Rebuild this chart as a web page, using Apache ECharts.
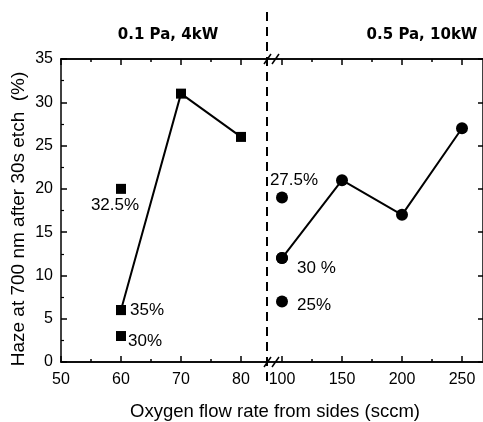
<!DOCTYPE html>
<html>
<head>
<meta charset="utf-8">
<script src="https://cdn.jsdelivr.net/npm/echarts@6/dist/echarts.min.js"></script>
<style>
html, body { margin: 0; padding: 0; background: #fff; }
#chart { width: 483px; height: 422px; }
</style>
</head>
<body>
<div id="chart"></div>
<script>
// Tick positions
const yTicks = [0, 5, 10, 15, 20, 25, 30, 35];
const lowTicks = [50, 60, 70, 80];
const lowMinor = [55, 65, 75];
const highTicks = [100, 150, 200, 250];
const highMinor = [125, 175, 225];

// 0.1 Pa, 4kW: flow series
const lowFlow = [60, 70, 80];
const lowHaze = [6, 31, 26];
// 0.1 Pa, 4kW: points at 60 sccm, labelled with oxygen fraction
const lowPointFlow = [60, 60, 60];
const lowPointHaze = [20, 6, 3];
const lowPointText = ['32.5%', '35%', '30%'];

// 0.5 Pa, 10kW: flow series
const highFlow = [100, 150, 200, 250];
const highHaze = [12, 21, 17, 27];
// 0.5 Pa, 10kW: points at 100 sccm, labelled with oxygen fraction
const highPointFlow = [100, 100, 100];
const highPointHaze = [19, 12, 7];
const highPointText = ['27.5%', '30 %', '25%'];

const panelTitles = ['0.1 Pa, 4kW', '0.5 Pa, 10kW'];
const xTitle = 'Oxygen flow rate from sides (sccm)';
const yTitle = 'Haze at 700 nm after 30s etch  (%)';

const FONT = "'Liberation Sans', Arial, sans-serif";
const BLACK = '#000';

// plot geometry
const G0 = { left: 61, top: 59, width: 206, height: 303 };
const G1 = { left: 267, top: 59, width: 216, height: 303 };
const lowMin = 50, lowMax = 50 + G0.width / 6;
const highMin = 87.5, highMax = 87.5 + G1.width / 1.2;

function xAxis(grid, pos, min, max, ticks, len, labels) {
  return {
    type: 'value', gridIndex: grid, position: pos, min: min, max: max,
    axisLine: { show: true, onZero: false, lineStyle: { color: BLACK, width: 1.5 } },
    axisTick: { show: true, inside: true, length: len, customValues: ticks,
                lineStyle: { color: BLACK, width: 1.5 } },
    axisLabel: labels ? { show: true, customValues: ticks, color: BLACK,
                          fontFamily: FONT, fontSize: 16, margin: 10 } : { show: false },
    splitLine: { show: false }
  };
}

const lineSeries = (xi, yi, xs, ys, symbol, size) => ({
  type: 'line', xAxisIndex: xi, yAxisIndex: yi,
  data: xs.map((x, i) => [x, ys[i]]),
  symbol: symbol, symbolSize: size,
  lineStyle: { color: BLACK, width: 2 },
  itemStyle: { color: BLACK, opacity: 1 },
  z: 3
});

const lowLabelPos = [
  { position: 'bottom', distance: 3, offset: [-6, 0] },
  { position: 'right', distance: 4, offset: [0, 0] },
  { position: 'right', distance: 2, offset: [0, 5] }
];
const highLabelPos = [
  { position: 'top', distance: 3, offset: [12, 0] },
  { position: 'right', distance: 9, offset: [0, 10] },
  { position: 'right', distance: 9, offset: [0, 4] }
];

const pointSeries = (xi, yi, xs, ys, texts, pos, symbol, size) => ({
  type: 'scatter', xAxisIndex: xi, yAxisIndex: yi,
  symbol: symbol, symbolSize: size,
  itemStyle: { color: BLACK, opacity: 1 },
  data: xs.map((x, i) => ({
    value: [x, ys[i]],
    label: Object.assign({
      show: true, formatter: texts[i], color: BLACK, opacity: 1,
      fontFamily: FONT, fontSize: 17
    }, pos[i])
  })),
  z: 4
});

// break marks on the top and bottom frame
function breakMarks(y) {
  return [0, 8].map(dx => ({
    type: 'line',
    shape: { x1: 264 + dx, y1: y + 5, x2: 271 + dx, y2: y - 5 },
    style: { stroke: BLACK, lineWidth: 1.5 },
    z: 100
  }));
}

const chart = echarts.init(document.getElementById('chart'), null, { renderer: 'canvas' });
chart.setOption({
  animation: false,
  backgroundColor: '#fff',
  title: [
    { text: panelTitles[0], left: 163, top: 23, textAlign: 'center',
      textStyle: { fontFamily: "'DejaVu Sans', sans-serif", fontWeight: 'bold', fontSize: 15, color: BLACK } },
    { text: panelTitles[1], left: 417, top: 23, textAlign: 'center',
      textStyle: { fontFamily: "'DejaVu Sans', sans-serif", fontWeight: 'bold', fontSize: 15, color: BLACK } },
    { text: xTitle, left: 270, top: 397, textAlign: 'center',
      textStyle: { fontFamily: FONT, fontWeight: 'normal', fontSize: 18.5, color: BLACK } }
  ],
  grid: [
    Object.assign({ containLabel: false }, G0),
    Object.assign({ containLabel: false }, G1)
  ],
  xAxis: [
    xAxis(0, 'bottom', lowMin, lowMax, lowTicks, 6, true),
    xAxis(0, 'bottom', lowMin, lowMax, lowMinor, 3, false),
    xAxis(0, 'top', lowMin, lowMax, lowTicks, 6, false),
    xAxis(0, 'top', lowMin, lowMax, lowMinor, 3, false),
    xAxis(1, 'bottom', highMin, highMax, highTicks, 6, true),
    xAxis(1, 'bottom', highMin, highMax, highMinor, 3, false),
    xAxis(1, 'top', highMin, highMax, highTicks, 6, false),
    xAxis(1, 'top', highMin, highMax, highMinor, 3, false)
  ],
  yAxis: [
    {
      type: 'value', gridIndex: 0, position: 'left', min: 0, max: 35, interval: 5,
      name: yTitle, nameLocation: 'middle', nameGap: 33,
      nameTextStyle: { fontFamily: FONT, fontSize: 19, color: BLACK, padding: [0, 17, 0, 0] },
      axisLine: { show: true, lineStyle: { color: BLACK, width: 1.5 } },
      axisTick: { show: true, inside: true, length: 6, lineStyle: { color: BLACK, width: 1.5 } },
      minorTick: { show: true, splitNumber: 2, length: 3, lineStyle: { color: BLACK, width: 1.2 } },
      axisLabel: { color: BLACK, fontFamily: FONT, fontSize: 16, margin: 8 },
      splitLine: { show: false }, minorSplitLine: { show: false }
    },
    {
      type: 'value', gridIndex: 1, position: 'right', min: 0, max: 35, interval: 5,
      axisLine: { show: true, lineStyle: { color: BLACK, width: 1.5 } },
      axisTick: { show: true, inside: true, length: 5, lineStyle: { color: BLACK, width: 1.5 } },
      axisLabel: { show: false },
      splitLine: { show: false }
    }
  ],
  series: [
    lineSeries(0, 0, lowFlow, lowHaze, 'rect', 10),
    pointSeries(0, 0, lowPointFlow, lowPointHaze, lowPointText, lowLabelPos, 'rect', 10),
    lineSeries(4, 1, highFlow, highHaze, 'circle', 12),
    pointSeries(4, 1, highPointFlow, highPointHaze, highPointText, highLabelPos, 'circle', 12)
  ],
  graphic: [
    {
      type: 'line',
      shape: { x1: 267, y1: 12, x2: 267, y2: 382 },
      style: { stroke: BLACK, lineWidth: 2, lineDash: [9, 6] },
      z: 100
    }
  ].concat(breakMarks(59), breakMarks(362))
});
</script>
</body>
</html>
